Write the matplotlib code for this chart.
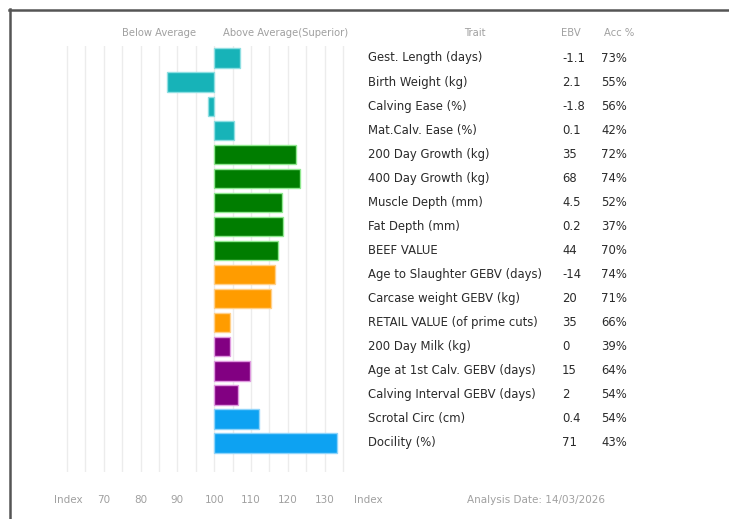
import matplotlib
matplotlib.use("Agg")
import matplotlib.pyplot as plt
from matplotlib.lines import Line2D

W, H = 729, 519

traits = ["Gest. Length (days)", "Birth Weight (kg)", "Calving Ease (%)", "Mat.Calv. Ease (%)",
          "200 Day Growth (kg)", "400 Day Growth (kg)", "Muscle Depth (mm)", "Fat Depth (mm)",
          "BEEF VALUE", "Age to Slaughter GEBV (days)", "Carcase weight GEBV (kg)",
          "RETAIL VALUE (of prime cuts)", "200 Day Milk (kg)", "Age at 1st Calv. GEBV (days)",
          "Calving Interval GEBV (days)", "Scrotal Circ (cm)", "Docility (%)"]
ebv = ["-1.1", "2.1", "-1.8", "0.1", "35", "68", "4.5", "0.2", "44", "-14", "20", "35", "0",
       "15", "2", "0.4", "71"]
acc = ["73%", "55%", "56%", "42%", "72%", "74%", "52%", "37%", "70%", "74%", "71%", "66%",
       "39%", "64%", "54%", "54%", "43%"]
index_vals = [107.1, 87.2, 98.4, 105.4, 122.3, 123.4, 118.5, 118.8, 117.4, 116.6, 115.5,
              104.4, 104.4, 109.6, 106.5, 112.2, 133.5]
groups = ["calving"] * 4 + ["growth"] * 5 + ["carcase"] * 3 + ["fertility"] * 3 + ["other"] * 2
group_colors = {"calving": "#17b3b8", "growth": "#007d00", "carcase": "#ff9c00",
                "fertility": "#820082", "other": "#0da2f2"}
group_edges = {"calving": "#8fdfe2", "growth": "#8fe88f", "carcase": "#ffd08a",
               "fertility": "#e09ae0", "other": "#8fd4fa"}
tick_vals = [70, 80, 90, 100, 110, 120, 130]
grid_vals = list(range(60, 140, 5))
baseline = 100

def fx(x):
    return x / W

def fy(y):
    return 1 - y / H

fig = plt.figure(figsize=(W / 100, H / 100), dpi=100)
fig.patch.set_facecolor("white")

# frame
fig.add_artist(Line2D([fx(9), fx(729)], [fy(9.5), fy(9.5)], color="#555555", lw=1.8))
fig.add_artist(Line2D([fx(9.5), fx(9.5)], [fy(9), fy(519)], color="#555555", lw=1.8))

ax_l, ax_r, ax_t, ax_b = 63.3, 346.7, 46, 472
ax = fig.add_axes([fx(ax_l), fy(ax_b), (ax_r - ax_l) / W, (ax_b - ax_t) / H])
ax.set_xlim(59, 136)
ax.set_ylim(17.2, -0.5)
for g in grid_vals:
    ax.axvline(g, color="#ececec", lw=1.0, zorder=0)
ys = list(range(len(traits)))
ax.barh(ys, [v - baseline for v in index_vals], left=baseline, height=0.8,
        color=[group_colors[g] for g in groups], edgecolor=[group_edges[g] for g in groups],
        linewidth=1.0, zorder=2)
ax.axis("off")

# headers
hdr = dict(fontsize=7.2, color="#a0a0a0", va="center", family="DejaVu Sans")
fig.text(fx(159), fy(33), "Below Average", ha="center", **hdr)
fig.text(fx(286), fy(33), "Above Average(Superior)", ha="center", **hdr)
fig.text(fx(475), fy(33), "Trait", ha="center", **hdr)
fig.text(fx(571), fy(33), "EBV", ha="center", **hdr)
fig.text(fx(619), fy(33), "Acc %", ha="center", **hdr)

# table rows
row = dict(fontsize=8.4, color="#2a2a2a", va="center", family="DejaVu Sans")
for i, (t, e, a) in enumerate(zip(traits, ebv, acc)):
    y = 58 + 24.06 * i
    fig.text(fx(368), fy(y), t, ha="left", **row)
    fig.text(fx(562), fy(y), e, ha="left", **row)
    fig.text(fx(601), fy(y), a, ha="left", **row)

# bottom scale labels
bot = dict(fontsize=7.5, color="#a0a0a0", va="center", family="DejaVu Sans")
for v in tick_vals:
    px = ax.transData.transform((v, 0))[0]
    fig.text(px / W, fy(500), str(v), ha="center", **bot)
fig.text(fx(68), fy(500), "Index", ha="center", **bot)
fig.text(fx(368), fy(500), "Index", ha="center", **bot)
fig.text(fx(536), fy(500), "Analysis Date: 14/03/2026", ha="center", **bot)

fig.savefig("out.png", dpi=100)
